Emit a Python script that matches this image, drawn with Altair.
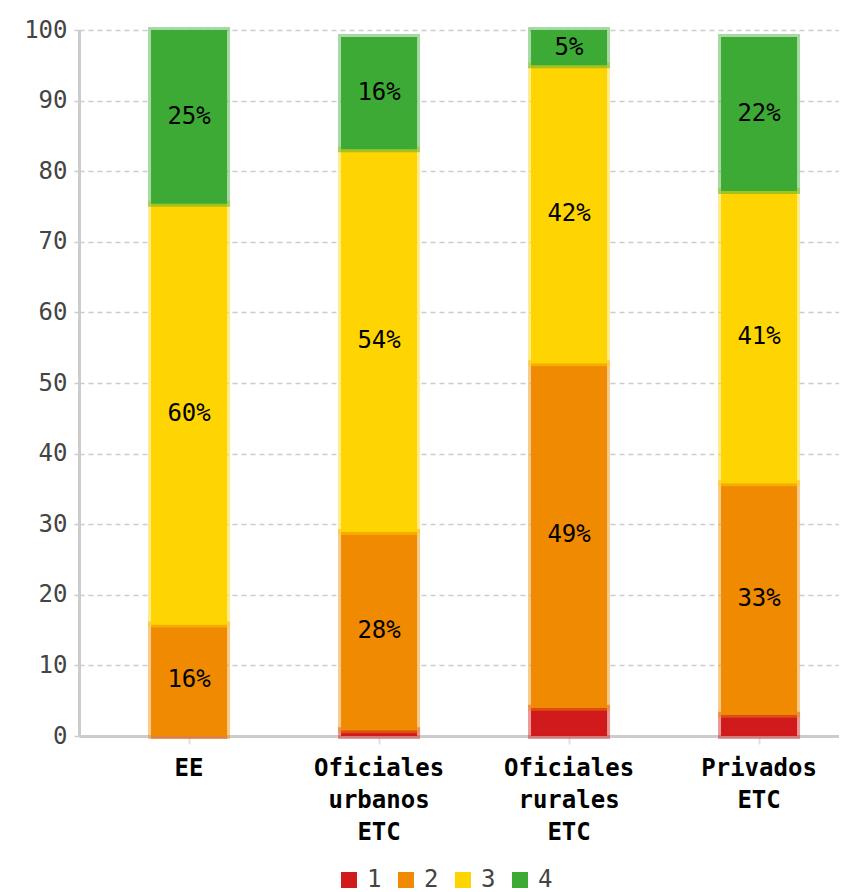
import altair as alt
import pandas as pd

categories = ["EE", "Oficiales urbanos ETC", "Oficiales rurales ETC", "Privados ETC"]
series = ["1", "2", "3", "4"]
values_1 = [0.0, 0.8, 4.0, 3.0]
values_2 = [15.8, 28.1, 48.8, 32.8]
values_3 = [59.6, 54.2, 42.2, 41.4]
values_4 = [24.6, 15.9, 5.0, 21.8]
colors = ["#d01a1b", "#f08a00", "#fed500", "#3caa35"]
y_ticks = list(range(0, 101, 10))

all_values = [values_1, values_2, values_3, values_4]
rows = []
for si, s in enumerate(series):
    for ci, c in enumerate(categories):
        rows.append({"category": c, "serie": s, "idx": si, "value": all_values[si][ci]})
df = pd.DataFrame(rows)

FONT = "DejaVu Sans Mono"

x_enc = alt.X(
    "category:N",
    sort=categories,
    scale=alt.Scale(paddingInner=0.6, paddingOuter=0.3, align=0.632),
    axis=alt.Axis(
        title=None, labelAngle=0, labelFont=FONT, labelFontWeight="bold",
        labelFontSize=24, labelColor="black",
        labelExpr="split(datum.label, ' ')", labelLineHeight=32,
        labelPadding=12, domainColor="#cccccc", domainWidth=3,
        tickColor="#e0e0e0", tickSize=8, tickWidth=2, grid=False,
    ),
)

y_scale = alt.Scale(domain=[0, 100], nice=False)

base = alt.Chart(df)

bars = base.mark_bar(strokeWidth=6, strokeOpacity=0.45).encode(
    x=x_enc,
    y=alt.Y(
        "value:Q", stack="zero", scale=y_scale,
        axis=alt.Axis(
            values=y_ticks, title=None, grid=True, gridDash=[5, 4],
            gridColor="#cccccc", gridWidth=1.5, domainColor="#cccccc",
            domainWidth=3, tickColor="#cccccc", tickSize=6, tickDash=[5, 4],
            tickWidth=1.5, labelFont=FONT, labelFontSize=24,
            labelColor="#444444", labelPadding=6,
        ),
    ),
    color=alt.Color(
        "serie:N",
        scale=alt.Scale(domain=series, range=colors),
        legend=alt.Legend(
            title=None, orient="none", direction="horizontal",
            legendX=258, legendY=838, symbolType="square", symbolSize=256,
            symbolStrokeWidth=0, labelFont=FONT, labelFontSize=24,
            labelColor="#444444", columnPadding=12, labelOffset=6,
        ),
    ),
    stroke=alt.Stroke(
        "serie:N", scale=alt.Scale(domain=series, range=colors), legend=None
    ),
    order=alt.Order("idx:Q", sort="ascending"),
)

text = (
    base.transform_stack(
        stack="value", groupby=["category"], as_=["y0", "y1"],
        sort=[alt.SortField("idx", "ascending")],
    )
    .transform_calculate(
        mid="(datum.y0 + datum.y1) / 2",
        label="format(datum.value, '.0f') + '%'",
    )
    .transform_filter("datum.value >= 4.5")
    .mark_text(font=FONT, fontSize=24, color="black", baseline="middle")
    .encode(x=alt.X("category:N", sort=categories), y=alt.Y("mid:Q", scale=y_scale), text="label:N")
)

chart = (
    alt.layer(bars, text)
    .properties(width=760, height=706, padding={"top": 10, "left": 15, "right": 0, "bottom": 5})
    .configure_view(stroke=None)
)

chart.save("out.html", embed_options={"renderer": "svg", "actions": False})
